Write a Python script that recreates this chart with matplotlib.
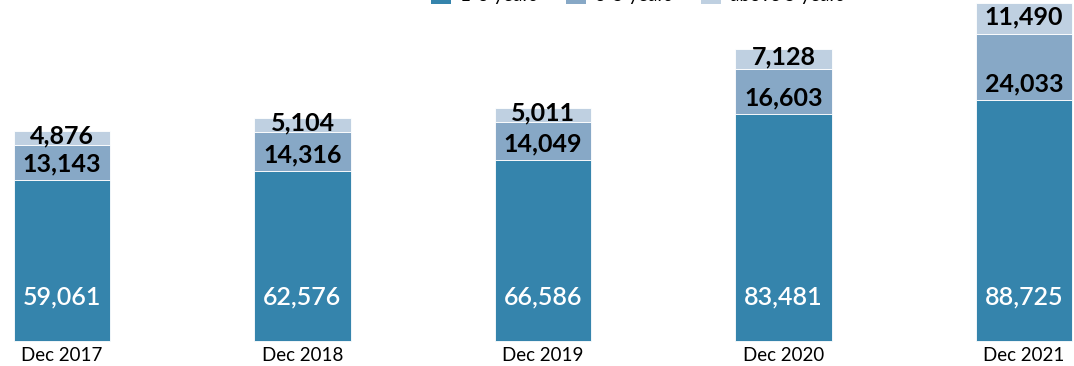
import matplotlib
matplotlib.use("Agg")
import matplotlib.pyplot as plt
from matplotlib.patches import Patch

periods = ["Dec 2017", "Dec 2018", "Dec 2019", "Dec 2020", "Dec 2021"]
yrs_1_3 = [59061, 62576, 66586, 83481, 88725]
yrs_3_5 = [13143, 14316, 14049, 16603, 24033]
yrs_above_5 = [4876, 5104, 5011, 7128, 11490]
series_names = ["1-3 years", "3-5 years", "above 5 years"]

colors = ["#3584ac", "#87a8c6", "#bfd0e1"]
FONT = ["Lato", "DejaVu Sans"]

W, H = 1074, 366
fig = plt.figure(figsize=(W / 100, H / 100), dpi=100)
ax = fig.add_axes([0, 25 / H, 1, 341 / H])

x = list(range(len(periods)))
bw = 0.4
ax.set_xlim(-62 / 240.5, (W - 62) / 240.5)
ax.set_ylim(0, 125400)

base = [0] * len(x)
series = [yrs_1_3, yrs_3_5, yrs_above_5]
for vals, col in zip(series, colors):
    ax.bar(x, vals, bw, bottom=base, color=col, edgecolor="white",
           linewidth=0.6, clip_on=False)
    base = [b + v for b, v in zip(base, vals)]

px = 125400 / 341  # data units per pixel

for i in x:
    # lower segment: white label near the bottom
    ax.text(i, 44 * px, f"{yrs_1_3[i]:,}", ha="center", va="center",
            color="white", fontsize=18, family=FONT, fontweight=600)
    # middle segment
    b = yrs_1_3[i]
    h = yrs_3_5[i]
    y = b + min(h / 2, 16 * px)
    ax.text(i, y, f"{h:,}", ha="center", va="center", color="black",
            fontsize=18, family=FONT, fontweight="bold")
    # top segment
    b2 = b + h
    h2 = yrs_above_5[i]
    ax.text(i, b2 + h2 / 2 + 2 * px, f"{h2:,}", ha="center", va="center",
            color="black", fontsize=18, family=FONT, fontweight="bold")

ax.set_xticks(x)
ax.set_xticklabels(periods, family=FONT, fontsize=13.5)
ax.tick_params(axis="x", length=0, pad=4)
ax.set_yticks([])
for s in ax.spines.values():
    s.set_visible(False)

handles = [Patch(facecolor=c, edgecolor="none") for c in colors]
fig.legend(handles, series_names, loc="lower left",
           bbox_to_anchor=(431 / W, (H - 4) / H), ncol=3, frameon=False,
           prop={"family": FONT, "size": 13.5},
           handlelength=1.07, handleheight=1.1, handletextpad=0.5,
           columnspacing=1.5, borderpad=0, borderaxespad=0)

fig.savefig("out.png", dpi=100)
